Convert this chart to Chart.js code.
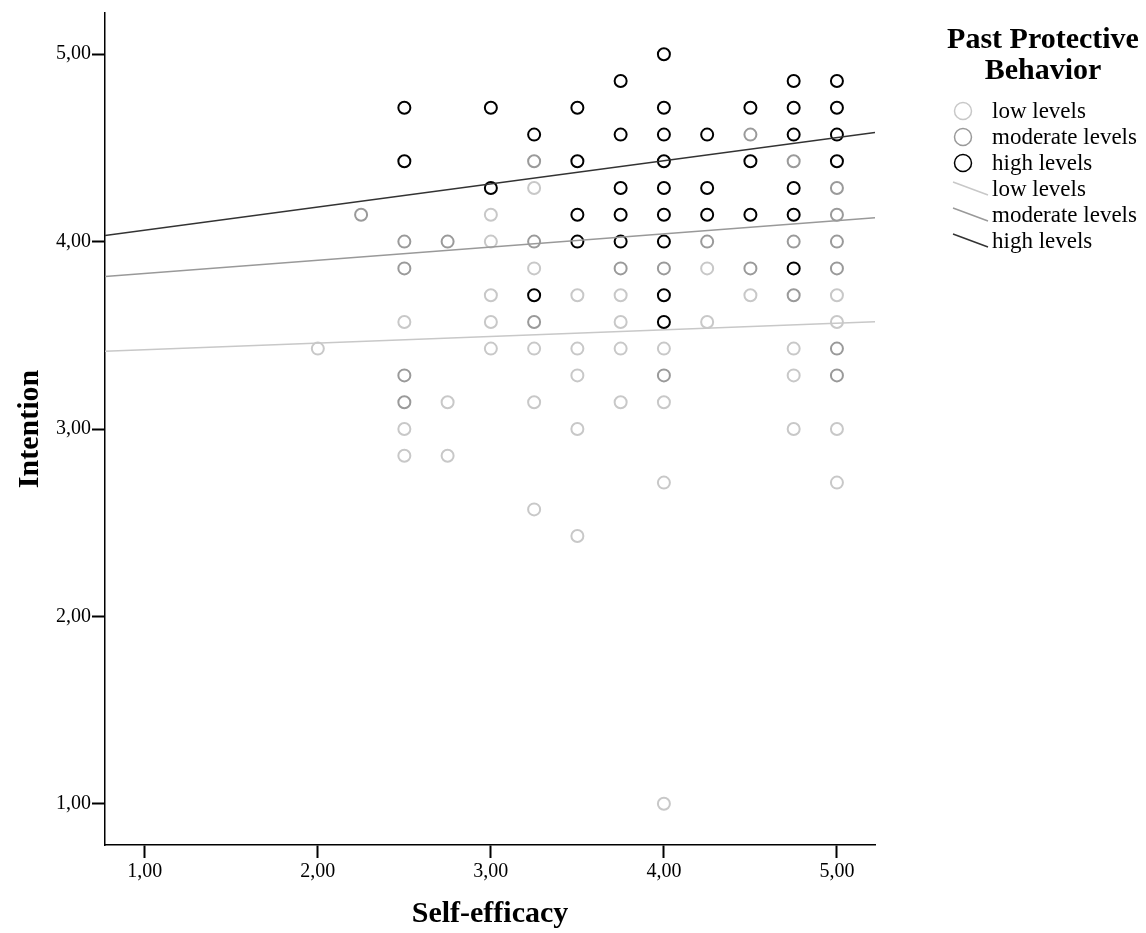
<!DOCTYPE html>
<html>
<head>
<meta charset="utf-8">
<script src="https://cdn.jsdelivr.net/npm/chart.js@4.4.1/dist/chart.umd.min.js"></script>
<style>
body{margin:0;background:#fff;font-family:"Liberation Serif","Times New Roman",serif;}
#wrap{position:relative;width:1146px;height:933px;}
#legend{position:absolute;left:930px;top:22px;width:216px;color:#000;}
#legend .tit{font-weight:bold;font-size:30px;line-height:31px;text-align:center;padding-left:10px;}
#legend .row{position:relative;height:26px;font-size:23px;line-height:26px;padding-left:62px;}
#legend .row svg{position:absolute;left:16px;top:0;}
#legendItems{margin-top:14px;}
</style>
</head>
<body>
<div id="wrap">
  <canvas id="grafico" width="1146" height="933"></canvas>
  <div id="legend">
    <div class="tit">Past Protective<br>Behavior</div>
    <div id="legendItems"></div>
  </div>
</div>
<script>
// Self-efficacy (x) / Intention (y), per group
const lowPoints = [
  [2.0,3.429],
  [2.5,3.571],[2.5,3.0],[2.5,2.857],
  [2.75,3.143],[2.75,2.857],
  [3.0,4.143],[3.0,4.0],[3.0,3.714],[3.0,3.571],[3.0,3.429],
  [3.25,4.286],[3.25,3.857],[3.25,3.429],[3.25,3.143],[3.25,2.571],
  [3.5,3.714],[3.5,3.429],[3.5,3.286],[3.5,3.0],[3.5,2.429],
  [3.75,3.714],[3.75,3.571],[3.75,3.429],[3.75,3.143],
  [4.0,3.429],[4.0,3.143],[4.0,2.714],[4.0,1.0],
  [4.25,3.857],[4.25,3.571],
  [4.5,3.714],
  [4.75,3.429],[4.75,3.286],[4.75,3.0],
  [5.0,3.714],[5.0,3.571],[5.0,3.0],[5.0,2.714]
]
const moderatePoints = [
  [2.25,4.143],
  [2.5,4.0],[2.5,3.857],[2.5,3.286],[2.5,3.143],
  [2.75,4.0],
  [3.25,4.429],[3.25,4.0],[3.25,3.571],
  [3.75,3.857],
  [4.0,3.857],[4.0,3.286],
  [4.25,4.0],
  [4.5,4.571],[4.5,3.857],
  [4.75,4.429],[4.75,4.0],[4.75,3.714],
  [5.0,4.286],[5.0,4.143],[5.0,4.0],[5.0,3.857],[5.0,3.429],[5.0,3.286]
]
const highPoints = [
  [2.5,4.714],[2.5,4.429],
  [3.0,4.714],[3.0,4.286],
  [3.25,4.571],[3.25,3.714],
  [3.5,4.714],[3.5,4.429],[3.5,4.143],[3.5,4.0],
  [3.75,4.857],[3.75,4.571],[3.75,4.286],[3.75,4.143],[3.75,4.0],
  [4.0,5.0],[4.0,4.714],[4.0,4.571],[4.0,4.429],[4.0,4.286],[4.0,4.143],[4.0,4.0],[4.0,3.714],[4.0,3.571],
  [4.25,4.571],[4.25,4.286],[4.25,4.143],
  [4.5,4.714],[4.5,4.429],[4.5,4.143],
  [4.75,4.857],[4.75,4.714],[4.75,4.571],[4.75,4.286],[4.75,4.143],[4.75,3.857],
  [5.0,4.857],[5.0,4.714],[5.0,4.571],[5.0,4.429]
]

// fit lines, values at the two ends of the x axis
const fitX = [0.77, 5.22]
const fitLow = [3.415, 3.573]
const fitModerate = [3.814, 4.127]
const fitHigh = [4.032, 4.582]

const tickValues = [1, 2, 3, 4, 5]
const groups = ["low levels", "moderate levels", "high levels"]

const colPunto = ["#c8c8c8", "#9a9a9a", "#000000"]
const colLinea = ["#c8c8c8", "#999999", "#333333"]

const toXY = (arr) => arr.map(p => ({x: p[0], y: p[1]}))
const fitData = (vals) => fitX.map((x, i) => ({x: x, y: vals[i]}))

const puntos = (label, data, color, order) => ({
  label: label,
  data: toXY(data),
  showLine: false,
  pointStyle: 'circle',
  pointRadius: 6,
  pointHoverRadius: 6,
  pointBorderWidth: 2,
  pointBorderColor: color,
  pointBackgroundColor: 'rgba(0,0,0,0)',
  order: order
})
const linea = (label, data, color) => ({
  label: label,
  data: fitData(data),
  showLine: true,
  borderColor: color,
  borderWidth: 1.5,
  pointRadius: 0,
  fill: false,
  order: 0
})

const fmt = (v) => Number(v).toFixed(2).replace('.', ',')

const ctx = document.getElementById('grafico')
new Chart(ctx, {
  type: 'scatter',
  data: {
    datasets: [
      puntos(groups[0], lowPoints, colPunto[0], 3),
      puntos(groups[1], moderatePoints, colPunto[1], 2),
      puntos(groups[2], highPoints, colPunto[2], 1),
      linea(groups[0], fitLow, colLinea[0]),
      linea(groups[1], fitModerate, colLinea[1]),
      linea(groups[2], fitHigh, colLinea[2])
    ]
  },
  options: {
    responsive: false,
    animation: false,
    layout: {padding: {left: 0, top: 12, right: 271, bottom: 0}},
    plugins: {legend: {display: false}, tooltip: {enabled: false}},
    scales: {
      x: {
        type: 'linear',
        min: fitX[0],
        max: fitX[1],
        afterBuildTicks: (s) => { s.ticks = tickValues.map(v => ({value: v})) },
        afterFit: (s) => { s.height = 88 },
        grid: {drawOnChartArea: false, drawTicks: true, tickLength: 13, tickWidth: 2, tickColor: '#000'},
        border: {display: true, color: '#000', width: 1.5},
        ticks: {color: '#000', padding: 2, maxRotation: 0, font: {family: '"Liberation Serif", serif', size: 20}, callback: fmt},
        title: {display: true, text: 'Self-efficacy', color: '#000', padding: {top: 0, bottom: 1},
          font: {family: '"Liberation Serif", serif', size: 30, weight: 'bold', lineHeight: 1.2}}
      },
      y: {
        type: 'linear',
        min: 0.78,
        max: 5.22,
        afterBuildTicks: (s) => { s.ticks = tickValues.map(v => ({value: v})) },
        afterFit: (s) => { s.width = 105 },
        grid: {drawOnChartArea: false, drawTicks: true, tickLength: 13, tickWidth: 2, tickColor: '#000'},
        border: {display: true, color: '#000', width: 1.5},
        ticks: {color: '#000', padding: 1, font: {family: '"Liberation Serif", serif', size: 20}, callback: fmt},
        title: {display: true, text: 'Intention', color: '#000', padding: {top: 12, bottom: 0},
          font: {family: '"Liberation Serif", serif', size: 30, weight: 'bold', lineHeight: 1.2}}
      }
    }
  }
})

// leyenda
const items = document.getElementById('legendItems')
groups.forEach((g, i) => {
  items.innerHTML += `<div class="row"><svg width="40" height="26"><circle cx="17" cy="13" r="8.5" fill="none" stroke="${colPunto[i]}" stroke-width="1.5"/></svg>${g}</div>`
})
groups.forEach((g, i) => {
  items.innerHTML += `<div class="row"><svg width="44" height="26"><line x1="7" y1="6" x2="42" y2="19" stroke="${colLinea[i]}" stroke-width="1.5"/></svg>${g}</div>`
})
</script>
</body>
</html>
